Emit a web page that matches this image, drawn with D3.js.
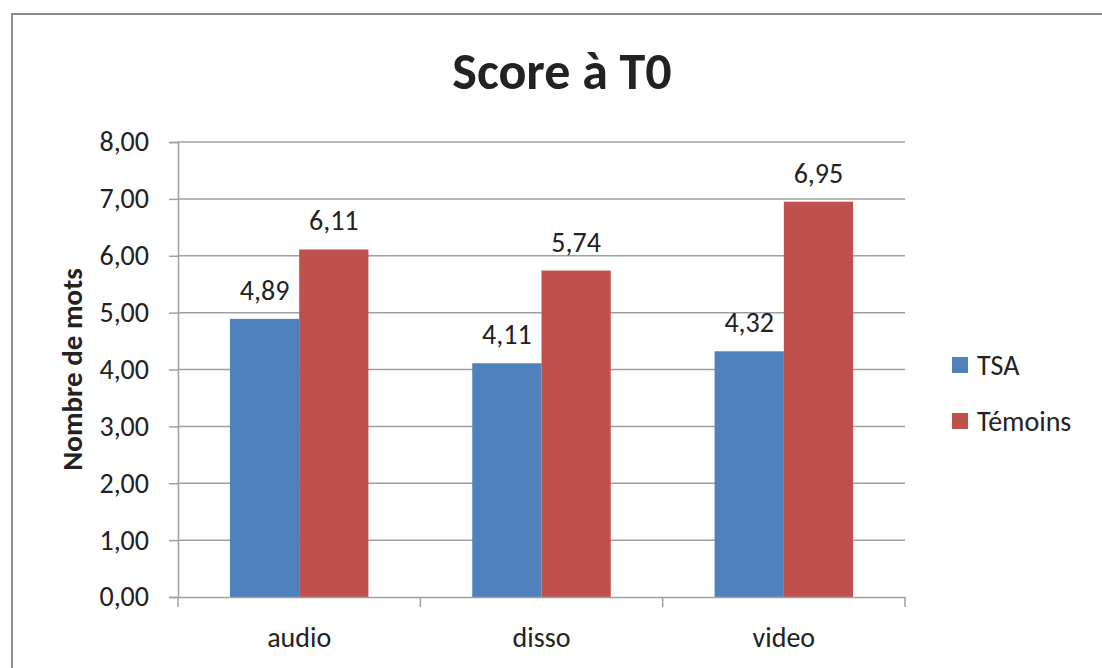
<!DOCTYPE html>
<html>
<head>
<meta charset="utf-8">
<script src="https://cdn.jsdelivr.net/npm/d3@7"></script>
<style>
  body { margin: 0; background: #fff; }
  svg text { font-family: Carlito, Lato, "Open Sans", sans-serif; fill: #222; }
</style>
</head>
<body>
<div id="chart"></div>
<script>
// Donnees du graphique
const categories = ["audio", "disso", "video"];
const series = ["TSA", "Témoins"];
const tsa = [4.89, 4.11, 4.32];
const temoins = [6.11, 5.74, 6.95];
const yTicks = [0, 1, 2, 3, 4, 5, 6, 7, 8];
const colors = ["#4F81BD", "#C0504D"];

const W = 1102, H = 668;
const margin = { top: 142, left: 178, right: 197, bottom: 71 };
const width = W - margin.left - margin.right;
const height = H - margin.top - margin.bottom;
const fs = "28px";

const svg = d3.select("#chart").append("svg")
    .attr("width", W)
    .attr("height", H);

// Cadre exterieur
svg.append("rect")
    .attr("x", 12).attr("y", 14)
    .attr("width", W + 10).attr("height", H + 10)
    .attr("fill", "none")
    .attr("stroke", "#8c8c8c")
    .attr("stroke-width", 2);

const fmt = d => d.toFixed(2).replace(".", ",");

const x0 = d3.scaleBand().domain(categories).range([0, width]).paddingInner(0).paddingOuter(0);
const x1 = d3.scaleBand().domain(series).range([0, x0.bandwidth()]).paddingInner(0).paddingOuter(0.75);
const y = d3.scaleLinear().domain([0, 8]).range([height, 0]);

const g = svg.append("g").attr("transform", `translate(${margin.left},${margin.top})`);

// Lignes de grille
g.append("g")
    .selectAll("line")
    .data(yTicks.filter(d => d > 0))
    .enter().append("line")
    .attr("x1", 0).attr("x2", width)
    .attr("y1", d => y(d)).attr("y2", d => y(d))
    .attr("stroke", "#a0a0a0")
    .attr("stroke-width", 1.5);

// Axe y
const yAxis = g.append("g")
    .call(d3.axisLeft(y).tickValues(yTicks).tickFormat(fmt).tickSize(9).tickPadding(20));
yAxis.select(".domain").attr("stroke", "#a0a0a0").attr("stroke-width", 1.5);
yAxis.selectAll(".tick line").attr("stroke", "#a0a0a0").attr("stroke-width", 1.5);
yAxis.selectAll("text").attr("font-size", fs).attr("fill", "#222");

// Barres
const groups = g.selectAll(".grp")
    .data(categories)
    .enter().append("g")
    .attr("class", "grp")
    .attr("transform", d => `translate(${x0(d)},0)`);

const vals = [tsa, temoins];
series.forEach((s, si) => {
    groups.append("rect")
        .attr("x", x1(s))
        .attr("width", x1.bandwidth())
        .attr("y", (d, i) => y(vals[si][i]))
        .attr("height", (d, i) => height - y(vals[si][i]))
        .attr("fill", colors[si]);

    groups.append("text")
        .attr("x", x1(s) + x1.bandwidth() / 2)
        .attr("y", (d, i) => y(vals[si][i]) - 19)
        .attr("text-anchor", "middle")
        .attr("font-size", fs)
        .text((d, i) => fmt(vals[si][i]));
});

// Axe x
const xAxis = g.append("g")
    .attr("transform", `translate(0,${height})`)
    .call(d3.axisBottom(x0).tickSize(0).tickPadding(30));
xAxis.select(".domain").attr("stroke", "#a0a0a0").attr("stroke-width", 1.5);
xAxis.selectAll("text").attr("font-size", fs).attr("fill", "#222");

// Graduations entre categories
g.append("g")
    .selectAll("line")
    .data(d3.range(categories.length + 1))
    .enter().append("line")
    .attr("x1", i => i * x0.bandwidth()).attr("x2", i => i * x0.bandwidth())
    .attr("y1", height).attr("y2", height + 10)
    .attr("stroke", "#a0a0a0")
    .attr("stroke-width", 1.5);

// Titre
svg.append("text")
    .attr("x", 562).attr("y", 89)
    .attr("text-anchor", "middle")
    .attr("font-size", "52px")
    .attr("font-weight", "bold")
    .text("Score à T0");

// Titre axe y
svg.append("text")
    .attr("transform", `translate(82,${margin.top + height / 2}) rotate(-90)`)
    .attr("text-anchor", "middle")
    .attr("font-size", "29px")
    .attr("font-weight", "bold")
    .text("Nombre de mots");

// Legende
const legend = svg.append("g").attr("transform", "translate(952,357)");
series.forEach((s, i) => {
    legend.append("rect")
        .attr("x", 0).attr("y", i * 56)
        .attr("width", 16).attr("height", 16)
        .attr("fill", colors[i]);
    legend.append("text")
        .attr("x", 25).attr("y", i * 56 + 18)
        .attr("font-size", fs)
        .text(s);
});
</script>
</body>
</html>
